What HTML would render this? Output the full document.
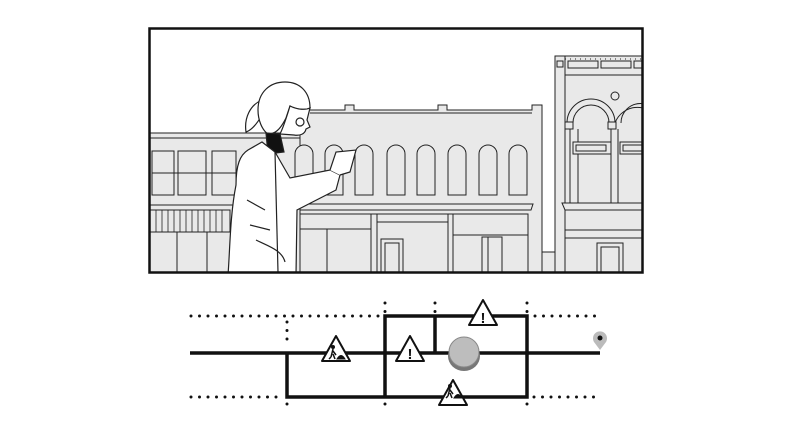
<!DOCTYPE html>
<html><head><meta charset="utf-8"><style>
html,body{margin:0;padding:0;background:#fff;width:792px;height:448px;overflow:hidden}
</style></head><body>
<svg width="792" height="448" viewBox="0 0 792 448" xmlns="http://www.w3.org/2000/svg">
<defs><clipPath id="fr"><rect x="150" y="29" width="492" height="243"/></clipPath></defs>
<rect x="150" y="29" width="492" height="243" fill="#fff"/>
<g clip-path="url(#fr)" stroke="#222" stroke-width="1" fill="#e9e9e9">
 <rect x="145" y="133" width="160" height="145"/>
 <line x1="145" y1="138" x2="305" y2="138"/>
 <rect x="152" y="151" width="22" height="44"/>
 <rect x="178" y="151" width="28" height="44"/>
 <rect x="212" y="151" width="24" height="44"/>
 <line x1="152" y1="173" x2="236" y2="173"/>
 <line x1="145" y1="205" x2="305" y2="205"/>
 <rect x="150" y="210" width="80" height="22"/>
 <g stroke-width="0.8"><line x1="156" y1="210" x2="156" y2="232"/><line x1="162" y1="210" x2="162" y2="232"/><line x1="168" y1="210" x2="168" y2="232"/><line x1="174" y1="210" x2="174" y2="232"/><line x1="180" y1="210" x2="180" y2="232"/><line x1="186" y1="210" x2="186" y2="232"/><line x1="192" y1="210" x2="192" y2="232"/><line x1="198" y1="210" x2="198" y2="232"/><line x1="204" y1="210" x2="204" y2="232"/><line x1="210" y1="210" x2="210" y2="232"/><line x1="216" y1="210" x2="216" y2="232"/><line x1="222" y1="210" x2="222" y2="232"/></g>
 <line x1="177" y1="232" x2="177" y2="275"/><line x1="207" y1="232" x2="207" y2="275"/>
 <path d="M300 110 L345 110 L345 105 L354 105 L354 110 L438 110 L438 105 L447 105 L447 110 L532 110 L532 105 L542 105 L542 275 L300 275Z"/>
 <line x1="310" y1="113" x2="532" y2="113"/>
 <g>
 <path d="M295 195 V154 a9 9 0 0 1 18 0 V195Z"/>
 <path d="M325 195 V154 a9 9 0 0 1 18 0 V195Z"/>
 <path d="M355 195 V154 a9 9 0 0 1 18 0 V195Z"/>
 <path d="M387 195 V154 a9 9 0 0 1 18 0 V195Z"/>
 <path d="M417 195 V154 a9 9 0 0 1 18 0 V195Z"/>
 <path d="M448 195 V154 a9 9 0 0 1 18 0 V195Z"/>
 <path d="M479 195 V154 a9 9 0 0 1 18 0 V195Z"/>
 <path d="M509 195 V154 a9 9 0 0 1 18 0 V195Z"/>
 </g>
 <path d="M300 204 L533 204 L531 210 L300 210Z"/>
 <rect x="300" y="214" width="228" height="60"/>
 <line x1="371" y1="214" x2="371" y2="275"/><line x1="377" y1="214" x2="377" y2="275"/>
 <line x1="448" y1="214" x2="448" y2="275"/><line x1="453" y1="214" x2="453" y2="275"/>
 <line x1="377" y1="222" x2="448" y2="222"/><line x1="300" y1="229" x2="371" y2="229"/><line x1="453" y1="235" x2="528" y2="235"/>
 <rect x="381" y="239" width="22" height="36"/><rect x="385" y="243" width="14" height="32"/>
 <rect x="482" y="237" width="20" height="38"/><line x1="488" y1="237" x2="488" y2="275"/>
 <line x1="327" y1="229" x2="327" y2="275"/>
 <rect x="542" y="252" width="14" height="25"/>
 <rect x="555" y="56" width="95" height="220"/>
 <rect x="555" y="56" width="10" height="220"/>
 <rect x="557" y="61" width="6" height="6"/>
 <line x1="565" y1="59" x2="650" y2="59" stroke-dasharray="1 4"/>
 <rect x="568" y="61" width="30" height="7"/><rect x="601" y="61" width="30" height="7"/><rect x="634" y="61" width="20" height="7"/>
 <line x1="565" y1="75" x2="650" y2="75"/>
 <path d="M567 123 A24 24 0 0 1 615 123 A24 24 0 0 1 660 123"/>
 <path d="M573 123 A18 18 0 0 1 609 123 M621 123 A18 18 0 0 1 660 123" fill="none"/>
 <rect x="565" y="122" width="8" height="7"/><rect x="608" y="122" width="8" height="7"/>
 <line x1="570" y1="129" x2="570" y2="203"/><line x1="578" y1="129" x2="578" y2="203"/>
 <line x1="611" y1="129" x2="611" y2="203"/><line x1="618" y1="129" x2="618" y2="203"/>
 <rect x="573" y="142" width="38" height="12"/><rect x="576" y="145" width="30" height="6"/>
 <rect x="620" y="142" width="30" height="12"/><rect x="623" y="145" width="25" height="6"/>
 <circle cx="615" cy="96" r="4"/>
 <path d="M562 203 L650 203 L650 210 L565 210Z"/>
 <rect x="565" y="210" width="85" height="20"/>
 <line x1="565" y1="238" x2="650" y2="238"/>
 <rect x="597" y="243" width="26" height="35"/><rect x="601" y="247" width="18" height="30"/>
 <g fill="#fff" stroke="#222" stroke-width="1.2">
  <path d="M262 100 C250 105 244 118 246 132 C252 130 258 122 262 115 Z"/>
  <path d="M258 110 C258 92 270 82 285 82 C300 82 310 92 310 108 C306 110 296 110 290 106 L286 118 C280 130 275 134 268 134 C262 130 258 120 258 110Z"/>
  <path d="M266 133 L280 134 L284 152 L268 154Z" fill="#111"/>
  <path d="M290 106 C298 110 306 110 310 108 L307 120 L310 127 L306 129 C305 134 300 136 294 135 L280 134 C284 126 287 116 290 106 Z"/>
  <circle cx="300" cy="122" r="4" fill="none"/>
  <path d="M248 150 L262 142 L275 152 L290 178 L330 170 L340 175 L336 190 L297 210 L296 275 L228 275 C230 250 230 215 236 185 C236 165 240 155 248 150Z"/>
  <path d="M330 170 L336 152 L356 150 L350 172 L340 175" />
  <path d="M256 240 C268 246 282 250 285 262" fill="none"/>
  <path d="M247 200 L265 210 M250 225 L270 230" fill="none"/>
  <path d="M275 152 L278 272" fill="none"/>
 </g>
</g>
<rect x="149.5" y="28.5" width="493" height="244" fill="none" stroke="#111" stroke-width="2.5"/>

<g stroke="#111" stroke-linecap="round" fill="none">
 <g stroke-width="3" stroke-dasharray="0 8.5">
  <line x1="191" y1="316" x2="381" y2="316"/>
  <line x1="535" y1="316" x2="598" y2="316"/>
  <line x1="191" y1="397" x2="282" y2="397"/>
  <line x1="534" y1="397" x2="596" y2="397"/>
  <line x1="287" y1="322" x2="287" y2="346"/><line x1="287" y1="404" x2="287" y2="410"/>
  <line x1="385" y1="303" x2="385" y2="312"/><line x1="385" y1="404" x2="385" y2="410"/>
  <line x1="435" y1="303" x2="435" y2="312"/>
  <line x1="527" y1="303" x2="527" y2="312"/><line x1="527" y1="404" x2="527" y2="410"/>
 </g>
 <g stroke-width="3.5" stroke-linecap="butt">
  <line x1="190" y1="353" x2="600" y2="353"/>
  <polyline points="287,353 287,397 527,397 527,316 385,316 385,397"/>
  <line x1="435" y1="316" x2="435" y2="353"/>
 </g>
</g>
<ellipse cx="464" cy="356" rx="16" ry="15" fill="#777"/>
<circle cx="464" cy="352" r="15" fill="#bdbdbd" stroke="#888" stroke-width="1"/>
<path d="M600 350 L594 342 A7 7 0 1 1 606 342Z" fill="#bbb"/>
<circle cx="600" cy="338" r="2.5" fill="#111"/>
<g stroke="#111" stroke-width="2" fill="#fff" stroke-linejoin="round">
 <path d="M336 336 L350 361 L322 361Z"/>
 <path d="M410 336 L424 361 L396 361Z"/>
 <path d="M483 300 L497 325 L469 325Z"/>
 <path d="M453 380 L467 405 L439 405Z"/>
</g>
<g fill="#111" font-family="Liberation Sans, sans-serif" font-weight="bold" font-size="15" text-anchor="middle">
 <text x="410" y="359">!</text><text x="483" y="323">!</text>
</g>
<g fill="#111" stroke="#111">
 <circle cx="333" cy="347" r="1.5"/><path d="M333 349 L331 357 M333 351 L336 355 M331 357 L329 359 M333 354 L335 359" stroke-width="1.5" fill="none"/><path d="M337 359 Q341 352 345 359Z"/>
 <circle cx="450" cy="386" r="1.5"/><path d="M450 388 L448 396 M450 390 L453 394 M448 396 L446 398 M450 393 L452 398" stroke-width="1.5" fill="none"/><path d="M454 398 Q458 391 462 398Z"/>
</g>
</svg>
</body></html>
